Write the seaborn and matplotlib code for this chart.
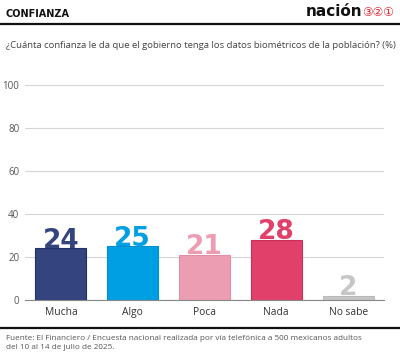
import matplotlib
matplotlib.use("Agg")
import matplotlib.pyplot as plt
import seaborn as sns
import pandas as pd
from matplotlib.lines import Line2D

# data
categories = ["Mucha", "Algo", "Poca", "Nada", "No sabe"]
values = [24, 25, 21, 28, 2]
colors = ["#33447f", "#009fe3", "#ec9db2", "#e0406a", "#c6c6c6"]
edge_colors = ["#22306a", "#0090d0", "#e08ea4", "#c8305a", "#b8b8b8"]
y_ticks = [0, 20, 40, 60, 80, 100]

title = "CONFIANZA"
subtitle = "¿Cuánta confianza le da que el gobierno tenga los datos biométricos de la población? (%)"
source = ("Fuente: El Financiero / Encuesta nacional realizada por vía telefónica a 500 mexicanos adultos\n"
          "del 10 al 14 de julio de 2025.")

df = pd.DataFrame({"Respuesta": categories, "Pct": values})

sns.set_style("white")
plt.rcParams["font.family"] = ["Open Sans", "DejaVu Sans"]

fig = plt.figure(figsize=(4.0, 3.62), dpi=100)
ax = fig.add_axes([0.0625, 0.1713, 0.8975, 0.5939])

sns.barplot(data=df, x="Respuesta", y="Pct", hue="Respuesta", palette=colors,
            width=0.71, legend=False, ax=ax, saturation=1)

for patch, ec in zip(ax.patches, edge_colors):
    patch.set_edgecolor(ec)
    patch.set_linewidth(0.8)

for cont, col in zip(ax.containers, colors):
    ax.bar_label(cont, fmt="%d", padding=-4, color=col, fontsize=19,
                 fontweight="bold", family=["DejaVu Sans"])

ax.set_xlim(-0.5, len(categories) - 0.5)
ax.set_ylim(0, 100)
ax.set_yticks(y_ticks)
ax.tick_params(axis="y", length=0, labelsize=7, labelcolor="#555555", pad=4)
ax.tick_params(axis="x", which="major", length=0, labelsize=7.4, labelcolor="#333333", pad=5)
ax.set_xticks([i - 0.5 for i in range(len(categories) + 1)], minor=True)
ax.tick_params(axis="x", which="minor", length=3.5, color="#888888", width=0.7)
ax.set_xlabel("")
ax.set_ylabel("")
ax.grid(axis="y", color="#d5d5d5", linewidth=0.8)
ax.set_axisbelow(True)
for side in ["top", "right", "left"]:
    ax.spines[side].set_visible(False)
ax.spines["bottom"].set_color("#888888")
ax.spines["bottom"].set_linewidth(0.8)

# header
fig.text(6 / 400, 1 - 14 / 362, title, fontsize=7, fontweight="bold", color="#111111",
         va="center", ha="left", family=["DejaVu Sans"])
fig.text(362 / 400, 1 - 12 / 362, "nación", fontsize=11, fontweight="bold", color="#111111",
         va="center", ha="right", family=["DejaVu Sans"])
fig.text(362 / 400, 1 - 13 / 362, "③②①", fontsize=8.6, color="#e0202a",
         va="center", ha="left", family=["DejaVu Sans"])
fig.add_artist(Line2D([0, 1], [1 - 24 / 362, 1 - 24 / 362], color="#111111", linewidth=1.6))

fig.text(6 / 400, 1 - 46 / 362, subtitle, fontsize=6.8, color="#444444", va="center", ha="left")

# footer
fig.add_artist(Line2D([0, 1], [1 - 328 / 362, 1 - 328 / 362], color="#111111", linewidth=1.6))
fig.text(6 / 400, 1 - 343 / 362, source, fontsize=5.9, color="#555555", va="center", ha="left",
         linespacing=1.25)

fig.savefig("out.png", dpi=100)
